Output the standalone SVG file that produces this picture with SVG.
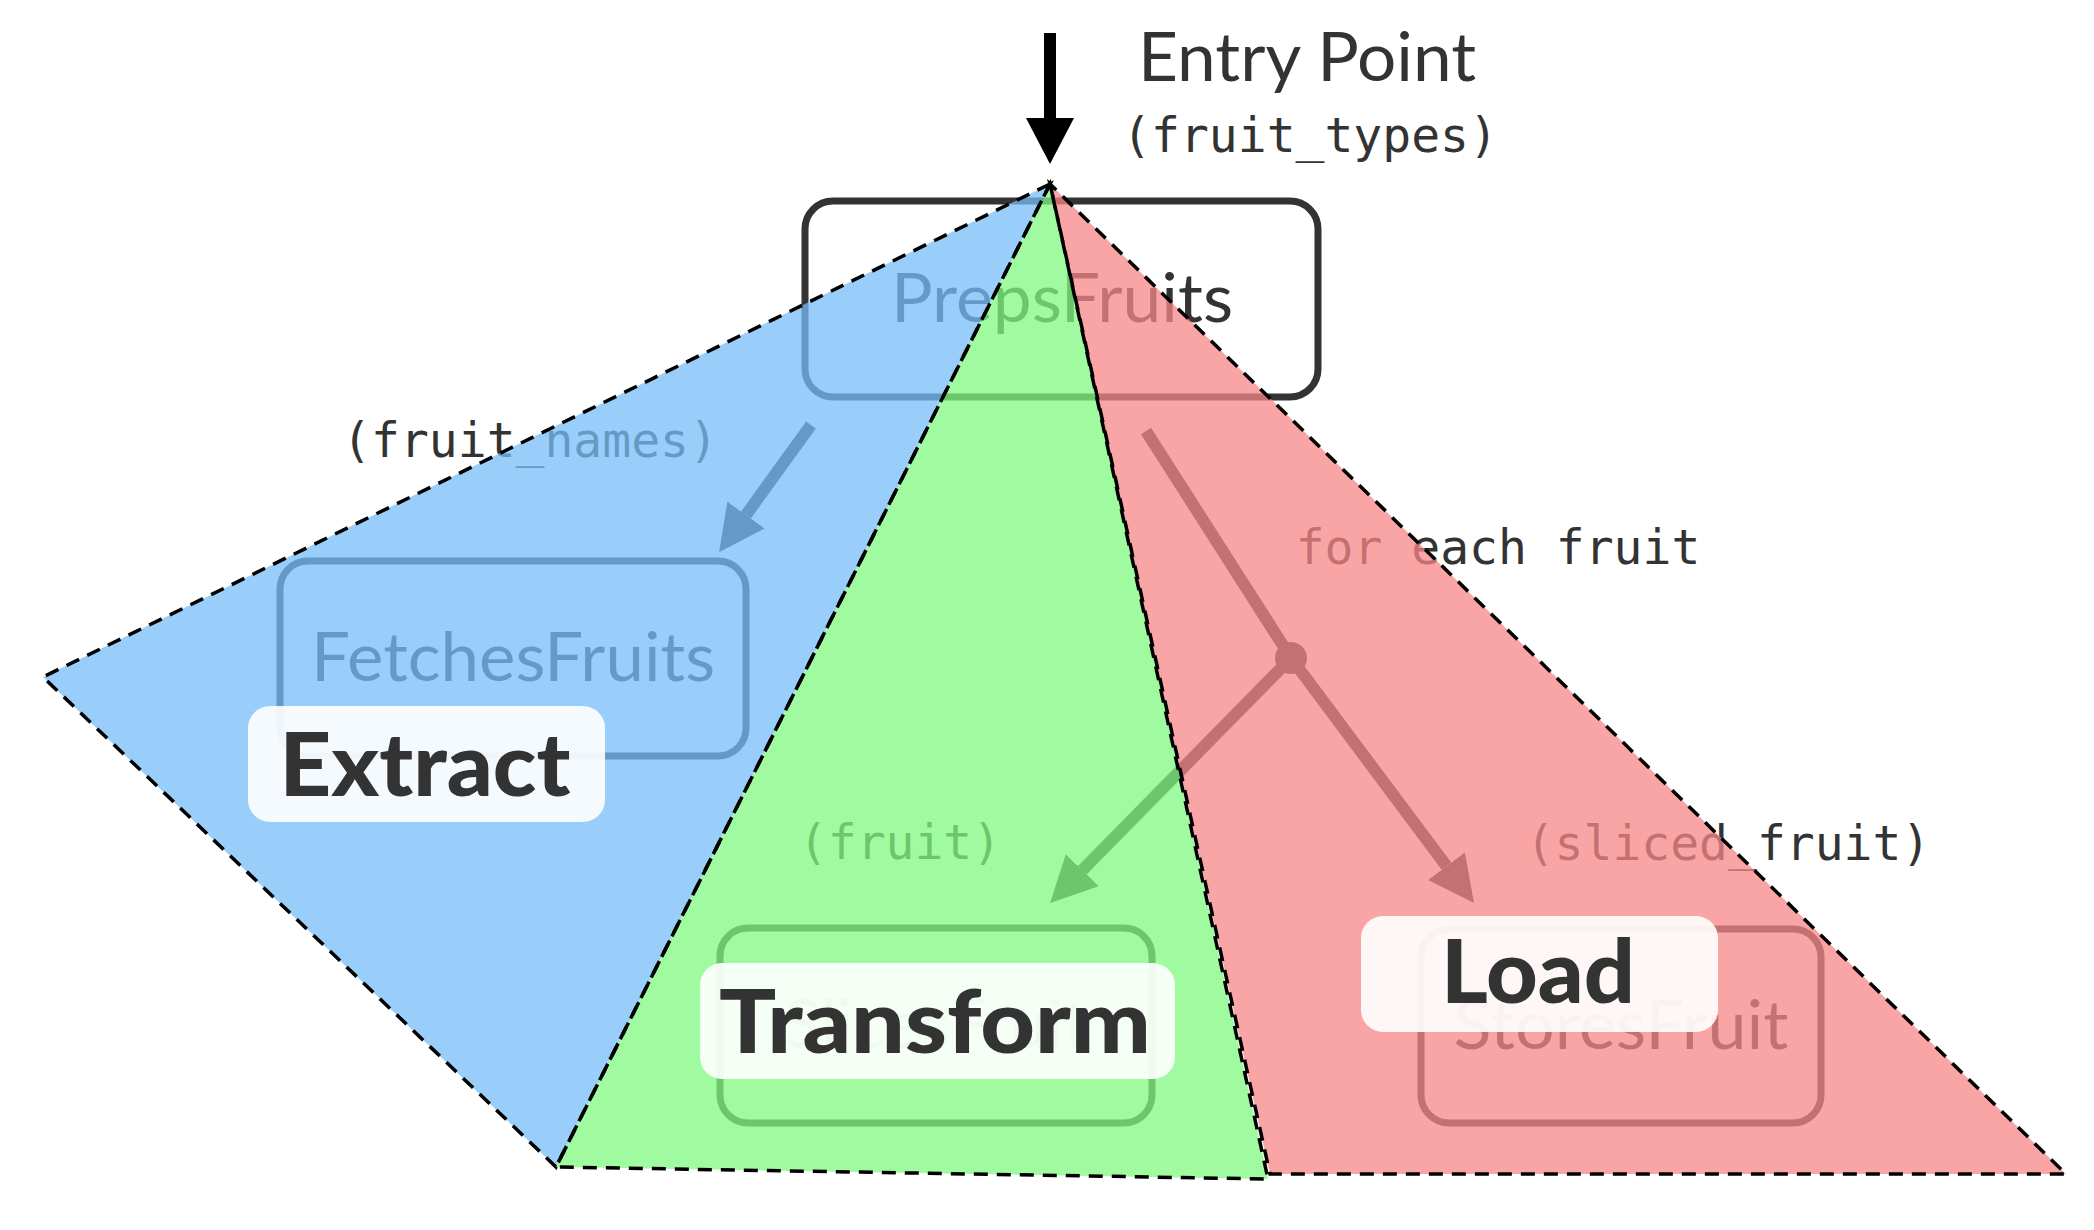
<svg xmlns="http://www.w3.org/2000/svg" width="2094" height="1230" viewBox="0 0 2094 1230">
<defs>
<style>
.node rect { fill: none; stroke: #333; stroke-width: 7; }
.node text { font-family: Lato, "Noto Sans", "Liberation Sans", sans-serif; font-size: 68px; fill: #333; text-anchor: middle; }
.edge { stroke: #333; stroke-width: 12; fill: none; }
.elabel { font-family: "DejaVu Sans Mono", "Liberation Mono", monospace; font-size: 48px; fill: #333; text-anchor: middle; }
.zfill { stroke: none; fill-opacity: 0.75; }
.zline { fill: none; stroke: #000; stroke-width: 3.5; stroke-dasharray: 14 9; }
.tag rect { fill: #fff; fill-opacity: 0.9; }
.tag text { font-family: Lato, "Noto Sans", "Liberation Sans", sans-serif; font-weight: 900; font-size: 88px; fill: #333; text-anchor: middle; }
.title { font-family: Lato, "Noto Sans", "Liberation Sans", sans-serif; font-size: 68px; fill: #333; text-anchor: middle; }
</style>
<marker id="ah" markerUnits="userSpaceOnUse" markerWidth="46" markerHeight="46" viewBox="0 0 46 46" refX="0" refY="23" orient="auto">
<path d="M0,0 L46,23 L0,46 z" fill="#333"/>
</marker>
<marker id="ahk" markerUnits="userSpaceOnUse" markerWidth="46" markerHeight="48" viewBox="0 0 46 48" refX="0" refY="24" orient="auto">
<path d="M0,0 L46,24 L0,48 z" fill="#000"/>
</marker>
<polygon id="zb" points="1050,184 43,677 556,1167"/>
<polygon id="zg" points="1050,184 556,1167 1268,1179"/>
<polygon id="zr" points="1050,184 1270,1174 2066,1174"/>
</defs>

<g id="entry">
<line x1="1050" y1="33" x2="1050" y2="118" stroke="#000" stroke-width="12" marker-end="url(#ahk)"/>
<text class="title" x="1307" y="81" textLength="338" lengthAdjust="spacingAndGlyphs">Entry Point</text>
</g>

<g id="n-preps" class="node">
<rect x="805" y="201" width="513" height="196" rx="28"/>
<text x="1062" y="322" textLength="342" lengthAdjust="spacingAndGlyphs">PrepsFruits</text>
</g>
<g id="n-fetch" class="node">
<rect x="280" y="561" width="466" height="195" rx="28"/>
<text x="513" y="681" textLength="404" lengthAdjust="spacingAndGlyphs">FetchesFruits</text>
</g>
<g id="n-slice" class="node">
<rect x="720" y="928" width="432" height="195" rx="28"/>
<text x="936" y="1048">SlicesFruit</text>
</g>
<g id="n-store" class="node">
<rect x="1421" y="929" width="400" height="194" rx="28"/>
<text x="1621" y="1049" textLength="335" lengthAdjust="spacingAndGlyphs">StoresFruit</text>
</g>

<g id="connectors">
<line class="edge" x1="811" y1="425" x2="746" y2="515" marker-end="url(#ah)"/>
<line class="edge" x1="1146" y1="431" x2="1291" y2="658"/>
<circle cx="1291" cy="658" r="16" fill="#333"/>
<line class="edge" x1="1291" y1="658" x2="1446.5" y2="866.2" marker-end="url(#ah)"/>
<line class="edge" x1="1291" y1="658" x2="1082.3" y2="870.2" marker-end="url(#ah)"/>
</g>

<g id="edge-labels">
<text class="elabel" x="1310" y="152">(fruit_types)</text>
<text class="elabel" x="530" y="457">(fruit_names)</text>
<text class="elabel" x="1498" y="564">for each fruit</text>
<text class="elabel" x="900" y="859">(fruit)</text>
<text class="elabel" x="1728" y="860">(sliced_fruit)</text>
</g>

<g id="zones">
<use href="#zb" class="zfill" fill="#77BEF8"/>
<use href="#zg" class="zfill" fill="#80F880"/>
<use href="#zr" class="zfill" fill="#F88787"/>
<use href="#zb" class="zline"/>
<use href="#zg" class="zline"/>
<use href="#zr" class="zline"/>
</g>

<g id="tag-extract" class="tag">
<rect x="248" y="706" width="357" height="116" rx="22"/>
<text x="425" y="796" textLength="291" lengthAdjust="spacingAndGlyphs">Extract</text>
</g>
<g id="tag-transform" class="tag">
<rect x="700" y="963" width="475" height="116" rx="22"/>
<text x="935" y="1053" textLength="432" lengthAdjust="spacingAndGlyphs">Transform</text>
</g>
<g id="tag-load" class="tag">
<rect x="1361" y="916" width="357" height="116" rx="22"/>
<text x="1538" y="1003" textLength="194" lengthAdjust="spacingAndGlyphs">Load</text>
</g>
</svg>
